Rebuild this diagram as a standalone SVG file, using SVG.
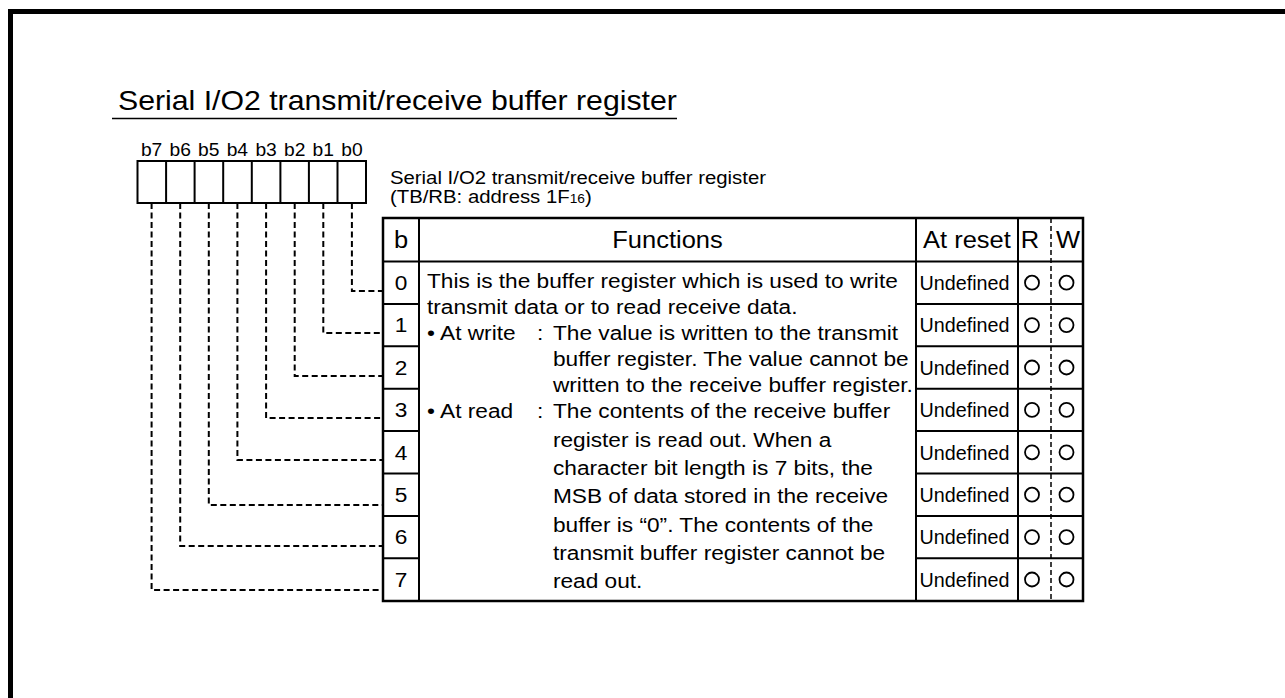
<svg xmlns="http://www.w3.org/2000/svg" width="1285" height="698" viewBox="0 0 1285 698">
<style>
text{font-family:"Liberation Sans",Arial,Helvetica,sans-serif;fill:#000}
.t{font-size:28px}
.lbl{font-size:18.5px}
.bit{font-size:17.5px;text-anchor:middle}
.hd{font-size:23.5px;text-anchor:middle}
.fn{font-size:21px}
.num{font-size:21px;text-anchor:middle}
.und{font-size:20.5px}
.ln{stroke:#000;fill:none}
.lead{stroke:#000;stroke-width:2;fill:none;stroke-dasharray:6 3.5}
.rw{stroke:#000;stroke-width:1.5;stroke-dasharray:5 3}
.ok{fill:none;stroke:#000;stroke-width:1.8}
</style>
<rect x="10.5" y="11.5" width="1300" height="720" fill="none" stroke="#000" stroke-width="5"/>

<g id="title">
<g transform="scale(1.08 1)"><text class="t" x="109.3" y="110">Serial I/O2 transmit/receive buffer register</text></g>
<line class="ln" x1="112" y1="118.5" x2="677" y2="118.5" stroke-width="1.5"/>
</g>

<g id="bits">
<g transform="scale(1.1 1)">
<text class="bit" x="137.8" y="156.5">b7</text>
<text class="bit" x="163.8" y="156.5">b6</text>
<text class="bit" x="189.8" y="156.5">b5</text>
<text class="bit" x="215.8" y="156.5">b4</text>
<text class="bit" x="241.9" y="156.5">b3</text>
<text class="bit" x="267.9" y="156.5">b2</text>
<text class="bit" x="293.9" y="156.5">b1</text>
<text class="bit" x="319.9" y="156.5">b0</text>
</g>
<rect class="ln" x="137.5" y="161" width="228.5" height="42" stroke-width="2"/>
<path class="ln" stroke-width="2" d="M166.1 161V203M194.6 161V203M223.2 161V203M251.8 161V203M280.4 161V203M308.9 161V203M337.5 161V203"/>
</g>

<g id="register-name">
<g transform="scale(1.1 1)">
<text class="lbl" x="354.5" y="184.5">Serial I/O2 transmit/receive buffer register</text>
<text class="lbl" x="354.5" y="203.5">(TB/RB: address 1F<tspan font-size="12.5px">16</tspan>)</text>
</g>
</g>

<g id="connectors">
<path class="lead" d="M351.9 203V291H383"/>
<path class="lead" d="M323.3 203V333H383"/>
<path class="lead" d="M294.7 203V376H383"/>
<path class="lead" d="M266.1 203V418H383"/>
<path class="lead" d="M237.4 203V460H383"/>
<path class="lead" d="M208.8 203V505H383"/>
<path class="lead" d="M180.2 203V546H383"/>
<path class="lead" d="M151.6 203V590H383"/>
</g>

<g id="table">
<rect class="ln" x="383" y="218" width="700" height="383" stroke-width="2.5"/>
<path class="ln" stroke-width="2" d="M419 218V601M916 218V601M1018 218V601M383 261.5H1083"/>
<path class="ln" stroke-width="2" d="M383 303.9H419M383 346.3H419M383 388.7H419M383 431.1H419M383 473.5H419M383 515.9H419M383 558.3H419M916 303.9H1083M916 346.3H1083M916 388.7H1083M916 431.1H1083M916 473.5H1083M916 515.9H1083M916 558.3H1083"/>
<line class="rw" x1="1051" y1="218" x2="1051" y2="601"/>
</g>

<g id="header">
<g transform="scale(1.085 1)">
<text class="hd" x="369.6" y="248">b</text>
<text class="hd" x="615.2" y="248">Functions</text>
<text class="hd" x="891.2" y="248">At reset</text>
<text class="hd" x="949.3" y="248">R</text>
<text class="hd" x="984.3" y="248">W</text>
</g>
</g>

<g id="bit-numbers">
<g transform="scale(1.08 1)">
<text class="num" x="371.3" y="290">0</text>
<text class="num" x="371.3" y="332.4">1</text>
<text class="num" x="371.3" y="374.8">2</text>
<text class="num" x="371.3" y="417.2">3</text>
<text class="num" x="371.3" y="459.6">4</text>
<text class="num" x="371.3" y="502">5</text>
<text class="num" x="371.3" y="544.4">6</text>
<text class="num" x="371.3" y="586.8">7</text>
</g>
</g>

<g id="functions">
<g transform="scale(1.08 1)">
<text class="fn" x="395.4" y="288.5">This is the buffer register which is used to write</text>
<text class="fn" x="395.4" y="314.5">transmit data or to read receive data.</text>
<text class="fn" x="395.4" y="340.5">• At write</text>
<text class="fn" x="497.2" y="340.5">:</text>
<text class="fn" x="512" y="340.5">The value is written to the transmit</text>
<text class="fn" x="512" y="366.5">buffer register. The value cannot be</text>
<text class="fn" x="512" y="392.5">written to the receive buffer register.</text>
<text class="fn" x="395.4" y="418.5">• At read</text>
<text class="fn" x="497.2" y="418.5">:</text>
<text class="fn" x="512" y="418.5">The contents of the receive buffer</text>
<text class="fn" x="512" y="446.8">register is read out. When a</text>
<text class="fn" x="512" y="475.1">character bit length is 7 bits, the</text>
<text class="fn" x="512" y="503.4">MSB of data stored in the receive</text>
<text class="fn" x="512" y="531.7">buffer is “0”. The contents of the</text>
<text class="fn" x="512" y="560">transmit buffer register cannot be</text>
<text class="fn" x="512" y="588.3">read out.</text>
</g>
</g>

<g id="reset-values">
<text class="und" x="919.5" y="290" textLength="90" lengthAdjust="spacingAndGlyphs">Undefined</text>
<text class="und" x="919.5" y="332.4" textLength="90" lengthAdjust="spacingAndGlyphs">Undefined</text>
<text class="und" x="919.5" y="374.8" textLength="90" lengthAdjust="spacingAndGlyphs">Undefined</text>
<text class="und" x="919.5" y="417.2" textLength="90" lengthAdjust="spacingAndGlyphs">Undefined</text>
<text class="und" x="919.5" y="459.6" textLength="90" lengthAdjust="spacingAndGlyphs">Undefined</text>
<text class="und" x="919.5" y="502" textLength="90" lengthAdjust="spacingAndGlyphs">Undefined</text>
<text class="und" x="919.5" y="544.4" textLength="90" lengthAdjust="spacingAndGlyphs">Undefined</text>
<text class="und" x="919.5" y="586.8" textLength="90" lengthAdjust="spacingAndGlyphs">Undefined</text>
</g>

<g id="rw-marks">
<circle class="ok" cx="1032" cy="282.7" r="7"/><circle class="ok" cx="1066.5" cy="282.7" r="7"/>
<circle class="ok" cx="1032" cy="325.1" r="7"/><circle class="ok" cx="1066.5" cy="325.1" r="7"/>
<circle class="ok" cx="1032" cy="367.5" r="7"/><circle class="ok" cx="1066.5" cy="367.5" r="7"/>
<circle class="ok" cx="1032" cy="409.9" r="7"/><circle class="ok" cx="1066.5" cy="409.9" r="7"/>
<circle class="ok" cx="1032" cy="452.3" r="7"/><circle class="ok" cx="1066.5" cy="452.3" r="7"/>
<circle class="ok" cx="1032" cy="494.7" r="7"/><circle class="ok" cx="1066.5" cy="494.7" r="7"/>
<circle class="ok" cx="1032" cy="537.1" r="7"/><circle class="ok" cx="1066.5" cy="537.1" r="7"/>
<circle class="ok" cx="1032" cy="579.5" r="7"/><circle class="ok" cx="1066.5" cy="579.5" r="7"/>
</g>
</svg>
